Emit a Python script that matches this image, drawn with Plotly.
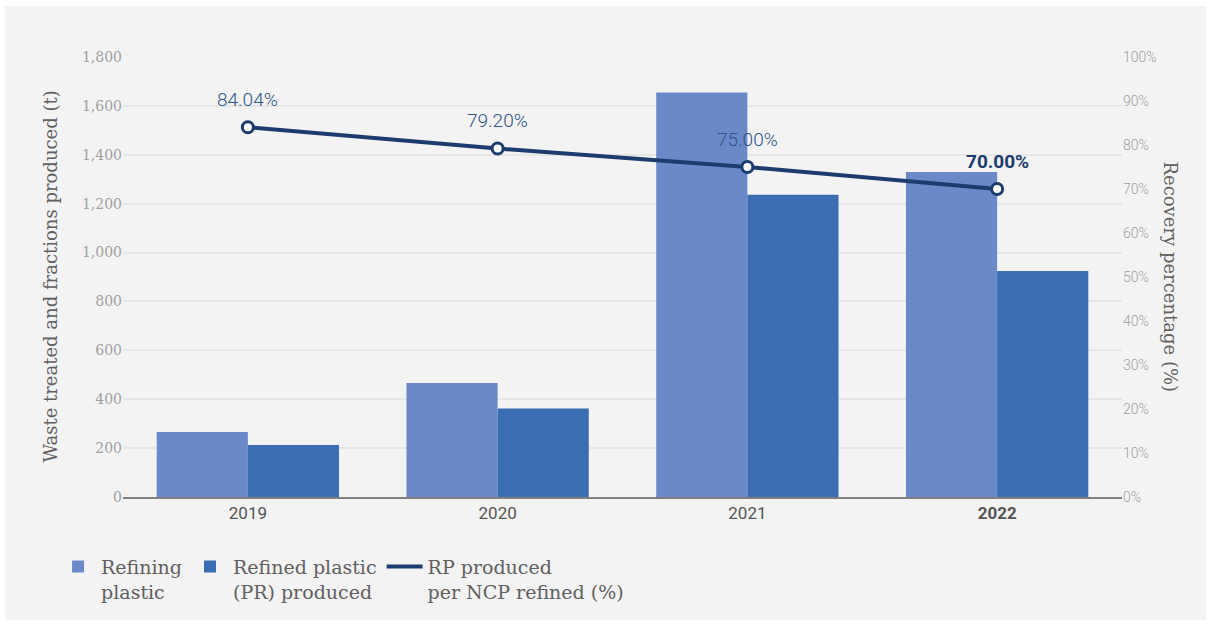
import plotly.graph_objects as go

# Data
years = ["2019", "2020", "2021", "2022"]
year_labels = ["2019", "2020", "2021", "<b>2022</b>"]
refining_plastic = [266, 466, 1655, 1330]
refined_plastic = [213, 362, 1236, 925]
recovery_pct = [84.04, 79.20, 75.00, 70.00]

left_ticks = [0, 200, 400, 600, 800, 1000, 1200, 1400, 1600, 1800]
right_ticks = [0, 10, 20, 30, 40, 50, 60, 70, 80, 90, 100]

W, H = 1211, 625
ML, MR, MT, MB = 123, 89, 57, 128
PW, PH = W - ML - MR, H - MT - MB

SERIF = "Roboto Slab, DejaVu Serif, serif"
SANS = "Roboto, Noto Sans, sans-serif"
NAVY = "#1c3c6e"

xpos = list(range(len(years)))

fig = go.Figure()

fig.add_trace(go.Bar(
    x=xpos, y=refining_plastic, name="Refining<br>plastic",
    marker=dict(color="#6b88c8", line=dict(width=0)), yaxis="y",
))
fig.add_trace(go.Bar(
    x=xpos, y=refined_plastic, name="Refined plastic<br>(PR) produced",
    marker=dict(color="#3b6db3", line=dict(width=0)), yaxis="y",
))
# Recovery line (legend shows the plain line) plus its point markers
fig.add_trace(go.Scatter(
    x=xpos, y=recovery_pct, name="RP produced<br>per NCP refined (%)",
    mode="lines", yaxis="y2",
    line=dict(color=NAVY, width=4),
))
fig.add_trace(go.Scatter(
    x=xpos, y=recovery_pct, mode="markers", yaxis="y2", showlegend=False,
    marker=dict(symbol="circle", size=11, color="white",
                line=dict(color=NAVY, width=3)),
))

# Value labels above the recovery line
annotations = []
for i, v in enumerate(recovery_pct):
    last = i == len(recovery_pct) - 1
    txt = f"{v:.2f}%"
    annotations.append(dict(
        x=xpos[i], y=v, xref="x", yref="y2", yshift=28,
        text=f"<b>{txt}</b>" if last else txt, showarrow=False,
        font=dict(family=SANS, size=19, weight=300,
                  color=NAVY if last else "#2f5488"),
    ))

# Axis titles
annotations.append(dict(
    x=(37 - ML) / PW, y=0.5, xref="paper", yref="paper",
    text="Waste treated and fractions produced (t)", textangle=-90,
    showarrow=False, font=dict(family=SERIF, size=18, color="#606060"),
))
annotations.append(dict(
    x=(1183 - ML) / PW, y=0.5, xref="paper", yref="paper",
    text="Recovery percentage (%)", textangle=90,
    showarrow=False, font=dict(family=SERIF, size=18, color="#606060"),
))

fig.update_layout(
    width=W, height=H,
    margin=dict(l=ML, r=MR, t=MT, b=MB),
    paper_bgcolor="white", plot_bgcolor="#f3f3f3",
    barmode="group", bargap=0.27, bargroupgap=0,
    font=dict(family=SERIF, color="#555555"),
    xaxis=dict(
        range=[-0.5, len(years) - 0.5],
        tickvals=xpos, ticktext=year_labels,
        showline=True, linecolor="#808080", linewidth=2,
        showgrid=False, zeroline=False, ticks="",
        tickfont=dict(family=SANS, size=17, color="#555555"),
    ),
    yaxis=dict(
        range=[0, 1800], tickvals=left_ticks, tickformat=",",
        showgrid=True, gridcolor="#e6e6e6", gridwidth=2,
        zeroline=False, showline=False, ticks="",
        tickfont=dict(family=SERIF, size=14, color="#a0a0a0"),
    ),
    yaxis2=dict(
        range=[0, 100], tickvals=right_ticks,
        ticktext=[f"{t}%" for t in right_ticks],
        overlaying="y", side="right", showgrid=False, zeroline=False,
        showline=False, ticks="",
        tickfont=dict(family=SANS, size=14, weight=300, color="#a0a0a0"),
    ),
    legend=dict(
        orientation="h", x=-0.068, y=-0.115, xanchor="left", yanchor="top",
        font=dict(family=SERIF, size=19, color="#606060"),
        valign="top", bgcolor="rgba(0,0,0,0)",
        traceorder="normal", itemwidth=36,
    ),
    annotations=annotations,
    shapes=[dict(
        type="rect", xref="paper", yref="paper", layer="below",
        x0=(5 - ML) / PW, x1=(1206 - ML) / PW,
        y0=-(620 - (H - MB)) / PH, y1=(H - MB - 6) / PH,
        fillcolor="#f3f3f3", line=dict(width=0),
    )],
)

fig.write_html("out.html")
